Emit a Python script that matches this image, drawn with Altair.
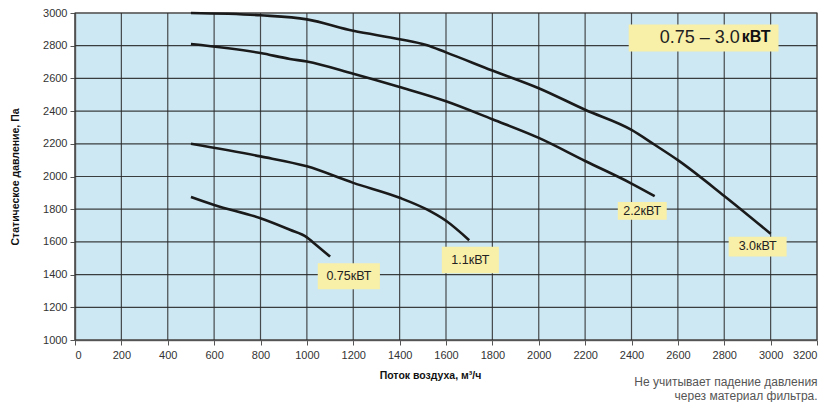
import altair as alt
import pandas as pd

# Curves: airflow (m3/h) vs static pressure (Pa)
q30 = [500, 800, 1000, 1200, 1400, 1515, 1600, 1800, 2000, 2200, 2400, 2500, 2600, 2800, 3000]
p30 = [3000, 2986, 2961, 2891, 2840, 2804, 2759, 2648, 2540, 2408, 2285, 2194, 2100, 1881, 1650]
q22 = [500, 800, 927, 1000, 1200, 1400, 1600, 1800, 2000, 2200, 2400, 2500]
p22 = [2810, 2755, 2719, 2703, 2628, 2547, 2460, 2350, 2236, 2095, 1957, 1880]
q11 = [500, 800, 1000, 1200, 1400, 1515, 1600, 1700]
p11 = [2200, 2123, 2062, 1961, 1870, 1800, 1729, 1610]
q075 = [500, 600, 800, 927, 1000, 1027, 1100]
p075 = [1875, 1826, 1745, 1674, 1628, 1597, 1510]

series_names = ["3.0", "2.2", "1.1", "0.75"]

# Labels
label_text = ["0.75кВТ", "1.1кВТ", "2.2кВТ", "3.0кВТ"]
label_x = [1181, 1705, 2446, 2944]
label_y = [1390, 1490, 1790, 1572]
box_x1 = [1047, 1582, 2341, 2819]
box_x2 = [1315, 1828, 2552, 3069]
box_y1 = [1310, 1408, 1735, 1511]
box_y2 = [1470, 1571, 1844, 1632]

title_box = {"x1": 2388, "x2": 3034, "y1": 2765, "y2": 2929}
title_regular = "0.75 – 3.0"
title_bold = "кВТ"
title_x = 2871
title_y = 2850

x_ticks = list(range(0, 3201, 200))
y_ticks = list(range(1000, 3001, 200))

rows = []
for name, qs, ps in zip(series_names, [q30, q22, q11, q075], [p30, p22, p11, p075]):
    for q, p in zip(qs, ps):
        rows.append({"series": name, "q": q, "p": p})
curves = pd.DataFrame(rows)

labels = pd.DataFrame({"text": label_text, "x": label_x, "y": label_y,
                       "x1": box_x1, "x2": box_x2, "y1": box_y1, "y2": box_y2})
tbox = pd.DataFrame([title_box])
ttext = pd.DataFrame({"x": [title_x], "y": [title_y], "a": [title_regular], "b": [title_bold]})
xgrid = pd.DataFrame({"v": x_ticks})
ygrid = pd.DataFrame({"v": y_ticks})

xscale = alt.Scale(domain=[0, 3200], nice=False, zero=False)
yscale = alt.Scale(domain=[1000, 3000], nice=False, zero=False)

xaxis = alt.Axis(values=x_ticks, format="d", grid=False, labelOverlap=False,
                 title="Поток воздуха, м³/ч", titleX=355, titleY=30)
yaxis = alt.Axis(values=y_ticks, format="d", grid=False, labelOverlap=False,
                 title="Статическое давление, Па", titleX=-55)


def X(field):
    return alt.X(field, type="quantitative", scale=xscale, axis=xaxis)


def Y(field):
    return alt.Y(field, type="quantitative", scale=yscale, axis=yaxis)


vgrid = alt.Chart(xgrid).mark_rule(color="#2e2e2e", strokeWidth=1.2, opacity=0.85).encode(x=X("v"))
hgrid = alt.Chart(ygrid).mark_rule(color="#2a2a2a", strokeWidth=1.2, opacity=0.9).encode(y=Y("v"))

lines = alt.Chart(curves).mark_line(color="#1a1a1a", strokeWidth=2.6, interpolate="monotone").encode(
    x=X("q"), y=Y("p"), detail="series:N",
)

boxes = alt.Chart(labels).mark_rect(color="#f8efa8").encode(
    x=X("x1"), x2="x2:Q", y=Y("y1"), y2="y2:Q")
texts = alt.Chart(labels).mark_text(fontSize=12.5, color="#222", font="Liberation Sans").encode(
    x=X("x"), y=Y("y"), text="text:N")

tb = alt.Chart(tbox).mark_rect(color="#f8efa8").encode(
    x=X("x1"), x2="x2:Q", y=Y("y1"), y2="y2:Q")
tt1 = alt.Chart(ttext).mark_text(fontSize=18, color="#222", align="right",
                                 font="Liberation Sans", dx=-1).encode(
    x=X("x"), y=Y("y"), text="a:N")
tt2 = alt.Chart(ttext).mark_text(fontSize=16, color="#111", align="left", fontWeight="bold",
                                 font="Liberation Sans", dx=1, dy=-1).encode(
    x=X("x"), y=Y("y"), text="b:N")

chart = alt.layer(vgrid, hgrid, lines, boxes, texts, tb, tt1, tt2).properties(
    width=742, height=327,
    padding={"left": 67, "top": 5, "right": 15, "bottom": 64},
    autosize=alt.AutoSizeParams(type="none"),
    background="white",
    title=alt.TitleParams(
        text=["Не учитывает падение давления", "через материал фильтра."],
        orient="bottom", anchor="end", align="right", fontSize=12, fontWeight="normal",
        color="#555", font="Liberation Sans", offset=-4, lineHeight=14),
).configure_view(
    fill="#cde8f3", stroke="#999", strokeWidth=1.5
).configure_axis(
    labelFontSize=11, labelColor="#333", labelFont="Liberation Sans",
    tickColor="#555", tickSize=5, domainColor="#777", domainWidth=1.5,
    titleFontWeight="bold", titleFontSize=10.5, titleColor="#111", titleFont="Liberation Sans",
).configure_axisX(labelPadding=4).configure_axisY(labelPadding=3)

chart.save("out.html", embed_options={"renderer": "svg", "actions": False})
